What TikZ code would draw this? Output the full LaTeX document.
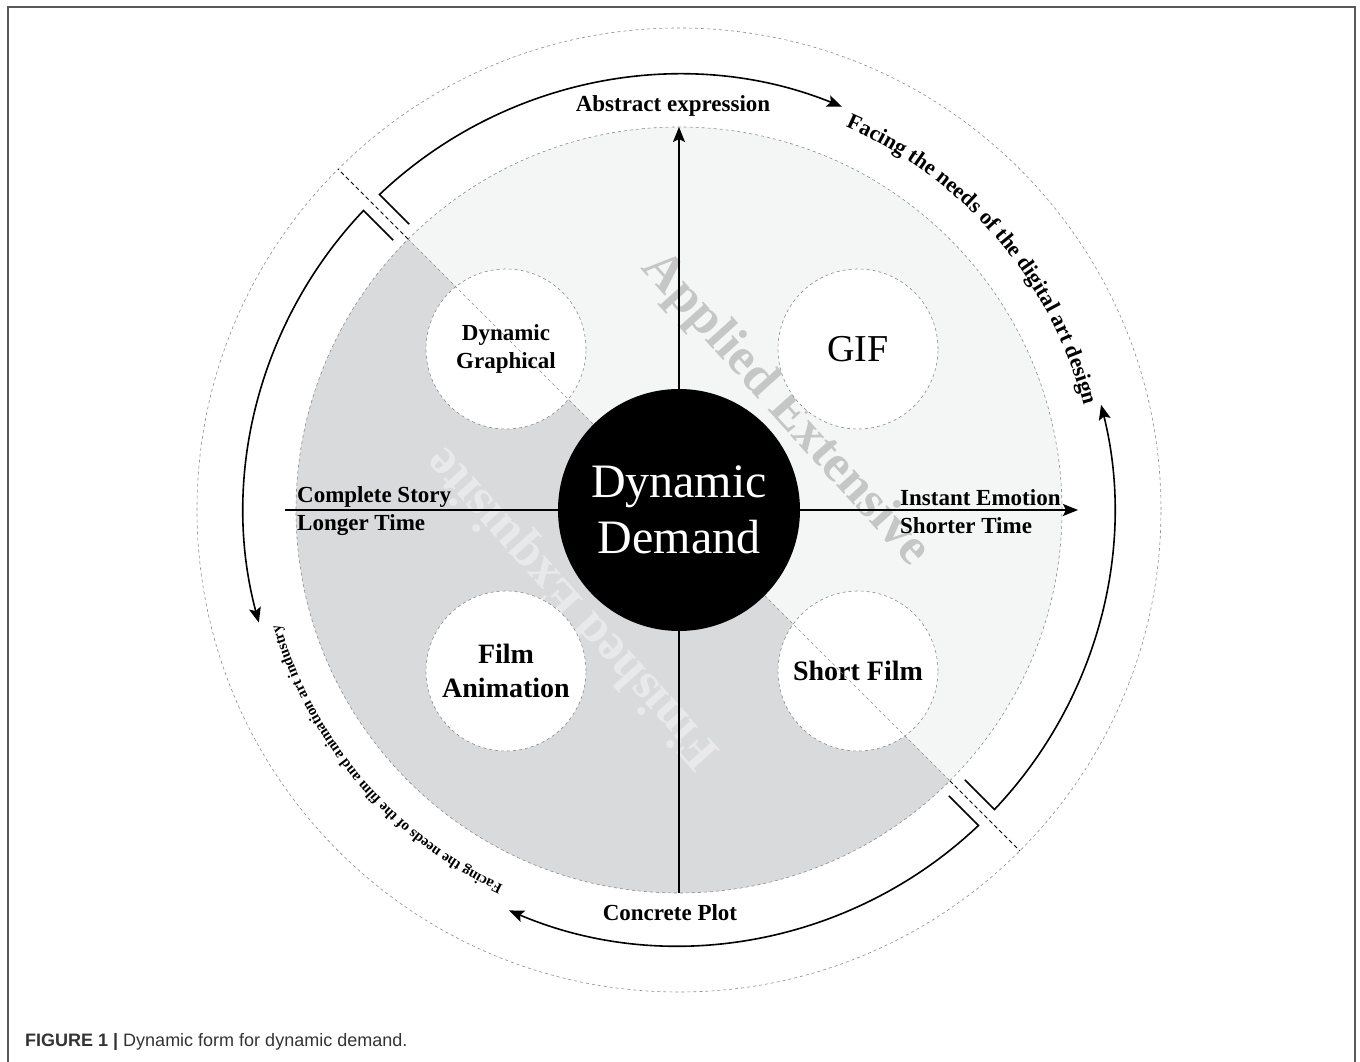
\documentclass[tikz,border=0pt]{standalone}
\usepackage{fontspec}
\setmainfont{Liberation Serif}
\newfontfamily\capfont{Liberation Sans}
\usetikzlibrary{arrows.meta,decorations.text}
\definecolor{darkhalf}{HTML}{D9DADB}
\definecolor{lighthalf}{HTML}{F4F5F5}
\definecolor{dashgrey}{HTML}{8C8C8C}
\definecolor{markgrey}{HTML}{C6C6C6}
\definecolor{marklight}{HTML}{E9E9E9}
\tikzset{
  >={Stealth[length=15pt,width=12pt,inset=3pt]},
}
\tikzstyle{axisline}=[line width=1.4pt,->]
\tikzstyle{flow}=[line width=1.6pt,->]
\tikzstyle{guide}=[dashgrey,line width=0.6pt,dash pattern=on 3pt off 3pt]
\tikzstyle{breakline}=[line width=0.9pt,dash pattern=on 4pt off 3pt]
\tikzstyle{formcircle}=[circle,fill=white,draw=dashgrey,line width=0.6pt,
  dash pattern=on 3pt off 3pt,minimum size=160pt,inner sep=0pt,align=center]
\tikzstyle{lab}=[font=\bfseries\fontsize{23}{28}\selectfont,inner sep=0pt]
\tikzstyle{wmark}=[font=\bfseries\fontsize{52}{52}\selectfont,inner sep=0pt]

\begin{document}
\begin{tikzpicture}[x=1pt,y=1pt]
  \useasboundingbox (-679,510) rectangle (681,-552);
  % frame and caption
  \draw[black!65,line width=1.2pt] (-671,-552) -- (-671,503) -- (676,503) -- (676,-552);
  \node[anchor=base west,inner sep=0pt,font=\capfont\fontsize{18}{18}\selectfont,
    text=black!80] (cap) at (-654,-536) {\textbf{FIGURE 1 |} Dynamic form for dynamic demand.};

  % the two halves of the disc
  \begin{scope}
    \clip (0,0) circle (383);
    \fill[lighthalf] (-383,-383) rectangle (383,383);
    \fill[darkhalf] (-400,400) -- (400,-400) -- (-400,-400) -- cycle;
  \end{scope}
  \draw[guide] (0,0) circle (383);
  \draw[guide] (0,0) circle (482);

  \node[wmark,text=markgrey,rotate=-48] (app) at (106,100) {Applied Extensive};
  \node[wmark,text=marklight,rotate=132] (fin) at (-105,-97) {Finished Exquisite};

  % axes
  \coordinate (top) at (0,383);
  \coordinate (bot) at (0,-383);
  \coordinate (lft) at (-394,0);
  \coordinate (rgt) at (399,0);
  \draw[axisline] (bot) -- (top);
  \draw[axisline] (lft) -- (rgt);

  % forms
  \node[formcircle,font=\bfseries\fontsize{23}{28}\selectfont] (dg) at (-173,161) {Dynamic\\Graphical};
  \node[formcircle,font=\fontsize{38}{38}\selectfont] (gif) at (179,161) {GIF};
  \node[formcircle,font=\bfseries\fontsize{28}{34}\selectfont] (fa) at (-173,-161) {Film\\Animation};
  \node[formcircle,font=\bfseries\fontsize{28}{34}\selectfont] (sf) at (179,-161) {Short Film};
  \draw[guide] (135:383) -- (-45:383);

  \node[circle,fill=black,minimum size=242pt,inner sep=0pt,text=white,align=center,
    font=\fontsize{48}{56}\selectfont] (dd) at (0,0) {Dynamic\\Demand};

  % breaks
  \draw[breakline] (135:383) -- (135:482);
  \draw[breakline] (-45:383) -- (-45:482);

  % labels
  \node[lab,anchor=base] (abs) at (-6,398) {Abstract expression};
  \node[lab,anchor=base] (con) at (-9,-410) {Concrete Plot};
  \node[lab,align=left,anchor=west] (cs) at (-382,-1.5) {Complete Story\\Longer Time};
  \node[lab,align=left,anchor=west] (ie) at (221,-1.5) {Instant Emotion\\Shorter Time};

  % arcs
  \draw[flow] ([shift={(-45:42)}]133.5:435) -- (133.5:435) arc[start angle=133.5,end angle=68,radius=435];
  \draw[flow] ([shift={(135:42)}]-43.5:435) -- (-43.5:435) arc[start angle=-43.5,end angle=14,radius=435];
  \draw[flow] ([shift={(135:42)}]-46.5:435) -- (-46.5:435) arc[start angle=-46.5,end angle=-113,radius=435];
  \draw[flow] ([shift={(-45:42)}]136.5:435) -- (136.5:435) arc[start angle=136.5,end angle=195,radius=435];

  \path[decorate,decoration={text along path,text align=center,
    text={|\bfseries\fontsize{22}{22}\selectfont|Facing the needs of the digital art design}}]
    (68:418) arc[start angle=68,end angle=13,radius=418];
  \path[decorate,decoration={text along path,text align=center,
    text={|\bfseries\fontsize{15}{15}\selectfont|Facing the needs of the film and animation art industry}}]
    (-113:415) arc[start angle=-113,end angle=-166,radius=415];
\end{tikzpicture}
\end{document}
